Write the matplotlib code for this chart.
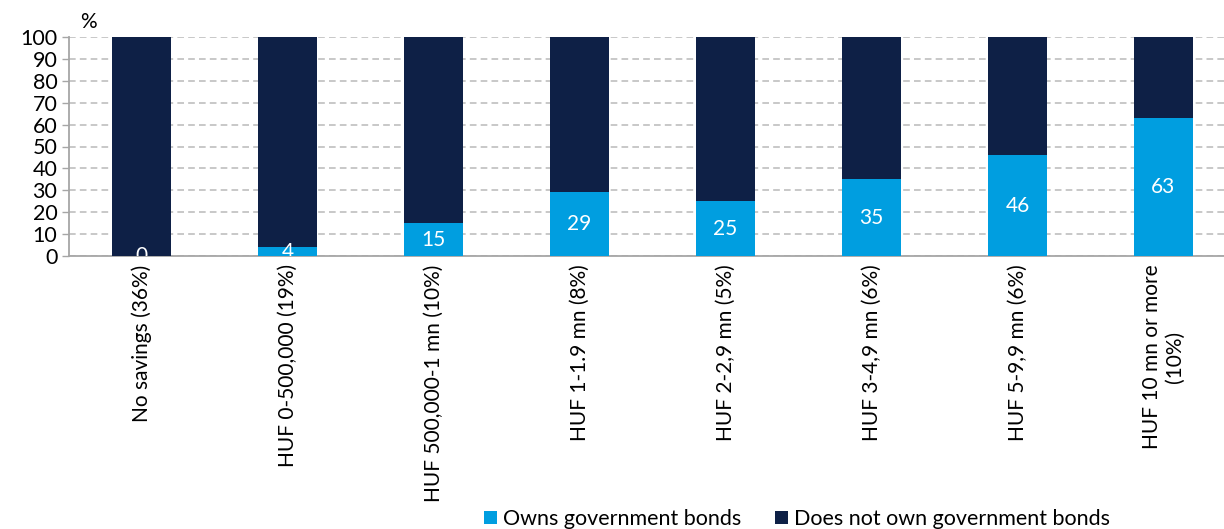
import matplotlib
matplotlib.use("Agg")
import matplotlib.pyplot as plt
import numpy as np

plt.rcParams['font.family'] = ['Lato', 'DejaVu Sans']

categories = ['No savings (36%)', 'HUF 0-500,000 (19%)', 'HUF 500,000-1 mn (10%)',
              'HUF 1-1.9 mn (8%)', 'HUF 2-2,9 mn (5%)', 'HUF 3-4,9 mn (6%)',
              'HUF 5-9,9 mn (6%)', 'HUF 10 mn or more\n(10%)']
owns = [0, 4, 15, 29, 25, 35, 46, 63]
not_owns = [100, 96, 85, 71, 75, 65, 54, 37]

light_blue = '#009EE0'
navy = '#0E2046'

fig = plt.figure(figsize=(12.24, 5.29), dpi=100)
# axes runs a bit past the right edge of the figure on purpose
ax = fig.add_axes([68.5 / 1224, (529 - 256) / 529, 1168 / 1224, 219 / 529])

x = np.arange(len(categories))
ax.bar(x, owns, width=0.40, color=light_blue, label='Owns government bonds', zorder=3)
ax.bar(x, not_owns, width=0.40, bottom=owns, color=navy,
       label='Does not own government bonds', zorder=3)

for xi, v in zip(x, owns):
    ax.text(xi, v / 2, str(v), color='white', ha='center', va='center',
            fontsize=15, zorder=4, clip_on=True)

ax.set_xlim(-0.5, len(categories) - 0.5)
ax.set_ylim(0, 100)
ax.set_yticks(range(0, 101, 10))
ax.yaxis.grid(True, linestyle=(0, (4, 2.5)), color='#BFBFBF', linewidth=1.2, zorder=0)
ax.set_axisbelow(True)

for side in ['top', 'right']:
    ax.spines[side].set_visible(False)
for side in ['left', 'bottom']:
    ax.spines[side].set_color('#A6A6A6')
    ax.spines[side].set_linewidth(1.3)

ax.tick_params(axis='y', length=5, width=1, color='#A6A6A6', labelsize=15.5, pad=3)
ax.tick_params(axis='x', length=0, pad=6)
ax.set_xticks(x)
ax.set_xticklabels(categories, rotation=90, fontsize=15, ha='center', va='top',
                   multialignment='center')

fig.text(88 / 1224, 1 - 22 / 529, '%', fontsize=15, ha='center', va='center')

handles, labels = ax.get_legend_handles_labels()
fig.legend(handles, labels, loc='center', bbox_to_anchor=(797 / 1224, 1 - 519 / 529),
           ncol=2, frameon=False, fontsize=15.5, handlelength=0.6, handleheight=0.6,
           handletextpad=0.25, columnspacing=1.6, borderpad=0)

fig.savefig('out.png', dpi=100)
